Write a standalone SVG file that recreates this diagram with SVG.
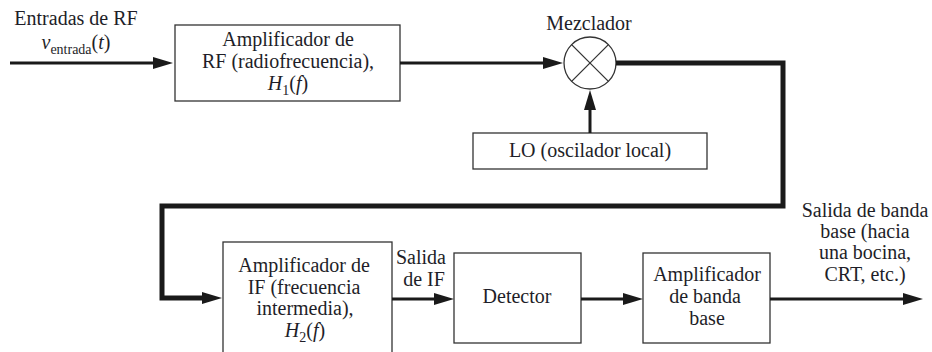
<svg xmlns="http://www.w3.org/2000/svg" width="932" height="352" viewBox="0 0 932 352">
  <style>
    .box { fill: #ffffff; stroke: #333333; stroke-width: 1.3; }
    .t { font-family: 'Liberation Serif', 'DejaVu Serif', 'Times New Roman', serif; font-size: 20px; fill: #1e1e28; text-anchor: middle; }
    .it { font-style: italic; }
    .sub { font-size: 14px; }
    .w { fill: none; stroke: #1a1a1a; stroke-width: 3; }
    .wb { fill: none; stroke: #1a1a1a; stroke-width: 5; stroke-linejoin: miter; }
  </style>
  <defs>
    <marker id="ah" markerUnits="userSpaceOnUse" markerWidth="20" markerHeight="12" refX="10" refY="6" orient="auto">
      <path d="M0,0 L20,6 L0,12 Z" fill="#1a1a1a"/>
    </marker>
  </defs>
  <rect width="932" height="352" fill="#ffffff"/>

  <g id="input-label">
    <text class="t" x="76" y="25" font-family="Liberation Serif, serif">Entradas de RF</text>
    <text class="t" x="76" y="49" font-family="Liberation Serif, serif"><tspan class="it">v</tspan><tspan class="sub" dy="5">entrada</tspan><tspan dy="-5">(</tspan><tspan class="it">t</tspan>)</text>
  </g>

  <g id="rf-amp">
    <rect class="box" x="175" y="25" width="225" height="76"/>
    <text class="t" x="288" y="46">Amplificador de</text>
    <text class="t" x="288" y="68">RF (radiofrecuencia),</text>
    <text class="t" x="288" y="90"><tspan class="it">H</tspan><tspan class="sub" dy="5">1</tspan><tspan dy="-5">(</tspan><tspan class="it">f</tspan>)</text>
  </g>

  <g id="mixer">
    <text class="t" x="589" y="30">Mezclador</text>
    <circle cx="590" cy="63" r="26" fill="#ffffff" stroke="#333333" stroke-width="1.3"/>
    <line x1="571.6" y1="44.6" x2="608.4" y2="81.4" stroke="#333333" stroke-width="1.3"/>
    <line x1="608.4" y1="44.6" x2="571.6" y2="81.4" stroke="#333333" stroke-width="1.3"/>
  </g>

  <g id="lo">
    <rect class="box" x="473" y="133" width="234" height="36"/>
    <text class="t" x="590" y="157">LO (oscilador local)</text>
  </g>

  <g id="if-amp">
    <rect class="box" x="223" y="242" width="169" height="116"/>
    <text class="t" x="304" y="272">Amplificador de</text>
    <text class="t" x="304" y="294">IF (frecuencia</text>
    <text class="t" x="305" y="315">intermedia),</text>
    <text class="t" x="305" y="337"><tspan class="it">H</tspan><tspan class="sub" dy="5">2</tspan><tspan dy="-5">(</tspan><tspan class="it">f</tspan>)</text>
  </g>

  <g id="if-out-label">
    <text class="t" x="421" y="264">Salida</text>
    <text class="t" x="424" y="286">de IF</text>
  </g>

  <g id="detector">
    <rect class="box" x="454" y="253" width="127" height="90"/>
    <text class="t" x="517" y="303">Detector</text>
  </g>

  <g id="bb-amp">
    <rect class="box" x="643" y="253" width="127" height="90"/>
    <text class="t" x="707" y="281">Amplificador</text>
    <text class="t" x="705" y="303">de banda</text>
    <text class="t" x="707" y="325">base</text>
  </g>

  <g id="output-label">
    <text class="t" x="865" y="217">Salida de banda</text>
    <text class="t" x="865" y="238">base (hacia</text>
    <text class="t" x="865" y="259">una bocina,</text>
    <text class="t" x="865" y="281">CRT, etc.)</text>
  </g>

  <g id="connectors">
    <line class="w" x1="10" y1="63" x2="163" y2="63" marker-end="url(#ah)"/>
    <line class="w" x1="400" y1="63" x2="553" y2="63" marker-end="url(#ah)"/>
    <line class="w" x1="590" y1="133" x2="590" y2="100" stroke-width="4" marker-end="url(#ah)"/>
    <path class="wb" d="M616,63 H783 V206 H162 V298 H212" marker-end="url(#ah)"/>
    <line class="w" x1="392" y1="299" x2="444" y2="299" marker-end="url(#ah)"/>
    <line class="w" x1="581" y1="299" x2="633" y2="299" marker-end="url(#ah)"/>
    <line class="w" x1="770" y1="299" x2="913" y2="299" marker-end="url(#ah)"/>
  </g>
</svg>
